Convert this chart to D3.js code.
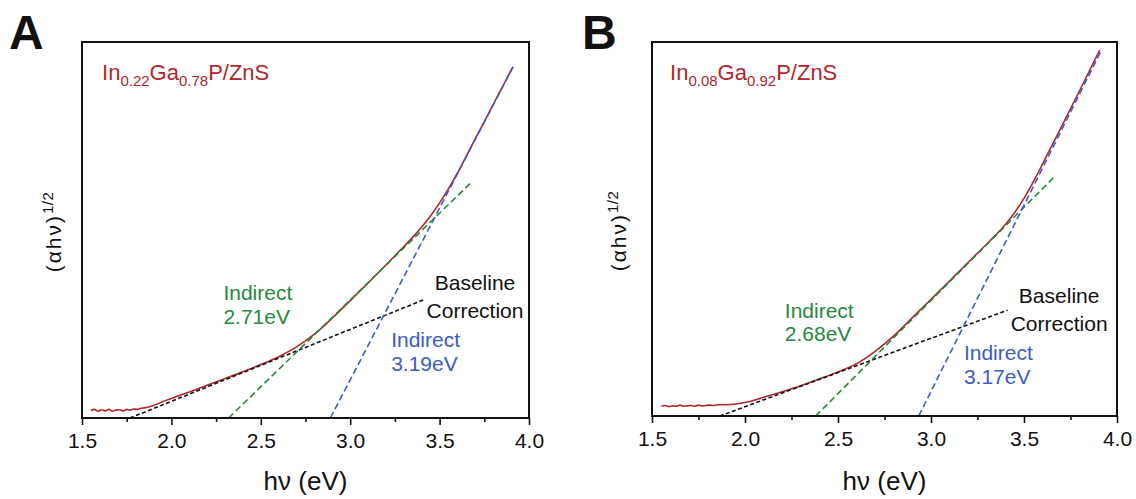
<!DOCTYPE html>
<html>
<head>
<meta charset="utf-8">
<script src="https://cdn.jsdelivr.net/npm/d3@7"></script>
<style>
  html, body { margin: 0; padding: 0; background: #fff; }
  svg { display: block; font-family: Arial, "Liberation Sans", sans-serif; }
</style>
</head>
<body>
<svg id="chart" width="1136" height="499"></svg>
<script>
'use strict';

// tick values (eV)
var xTicks = [1.5, 2.0, 2.5, 3.0, 3.5, 4.0];
var xMinorTicks = [1.75, 2.25, 2.75, 3.25, 3.75];

// panel A : In0.22Ga0.78P/ZnS  -> [hv, (ahv)^1/2]
var curveA = [
  [1.55, 2.0], [1.57, 2.3], [1.59, 1.8], [1.61, 2.2], [1.63, 1.9], [1.65, 2.3],
  [1.67, 1.8], [1.69, 2.1], [1.71, 2.2], [1.73, 1.9], [1.75, 2.3], [1.77, 2.1],
  [1.79, 2.4], [1.81, 2.3], [1.83, 2.6], [1.85, 2.7], [1.9, 3.3], [1.95, 4.3],
  [2.0, 5.2], [2.1, 6.9], [2.2, 8.7], [2.3, 10.5], [2.4, 12.3], [2.5, 14.2],
  [2.6, 16.3], [2.7, 18.9], [2.8, 22.3], [2.9, 26.6], [3.0, 31.2], [3.1, 35.9],
  [3.2, 40.7], [3.3, 45.6], [3.35, 48.1], [3.4, 50.8], [3.45, 53.8], [3.5, 57.2],
  [3.55, 61.0], [3.6, 65.2], [3.65, 69.7], [3.7, 74.3], [3.8, 83.4], [3.91, 93.4]
];
var baselineA = [[1.768, 0], [3.42, 31.6]];
var greenFitA = [[2.32, 0], [3.678, 62.7]];
var blueFitA = [[2.889, 0], [3.911, 93.4]];

// panel B : In0.08Ga0.92P/ZnS
var curveB = [
  [1.55, 2.6], [1.57, 2.8], [1.59, 2.5], [1.61, 2.7], [1.63, 2.6], [1.65, 2.9],
  [1.67, 2.6], [1.69, 2.7], [1.71, 2.8], [1.73, 2.6], [1.75, 2.9], [1.77, 2.7],
  [1.79, 2.8], [1.81, 2.9], [1.83, 2.8], [1.85, 3.0], [1.9, 3.0], [1.95, 3.2],
  [2.0, 3.6], [2.1, 5.0], [2.2, 6.5], [2.3, 8.1], [2.4, 9.9], [2.5, 11.8],
  [2.6, 14.0], [2.7, 17.3], [2.8, 21.4], [2.9, 26.3], [3.0, 31.2], [3.1, 36.1],
  [3.2, 41.1], [3.3, 46.0], [3.35, 48.5], [3.4, 51.2], [3.45, 54.4], [3.5, 58.2],
  [3.55, 62.6], [3.6, 67.4], [3.7, 77.2], [3.8, 87.1], [3.907, 97.8]
];
var baselineB = [[1.864, 0], [3.412, 28.3]];
var greenFitB = [[2.38, 0], [3.664, 64.0]];
var blueFitB = [[2.934, 0], [3.918, 98.0]];

var colors = {
  data: '#b2262b',
  green: '#25893e',
  blue: '#3d5cc2',
  black: '#111'
};

var svg = d3.select('#chart');

var panels = [
  {
    letter: 'A', letterX: 9, left: 82, right: 529, top: 42, bottom: 418,
    yTitleX: 61, yTitleY: 232,
    sample: ['In', '0.22', 'Ga', '0.78', 'P/ZnS'], sampleX: 1.612,
    curve: curveA, baseline: baselineA, green: greenFitA, blue: blueFitA,
    greenLabel: ['Indirect', '2.71eV'], greenPos: [2.291, 300, 23.5],
    blueLabel: ['Indirect', '3.19eV'], bluePos: [3.229, 346.5, 24],
    baseCenter: [3.698, 290, 28]
  },
  {
    letter: 'B', letterX: 582, left: 652, right: 1117, top: 42, bottom: 416,
    yTitleX: 626, yTitleY: 231,
    sample: ['In', '0.08', 'Ga', '0.92', 'P/ZnS'], sampleX: 1.597,
    curve: curveB, baseline: baselineB, green: greenFitB, blue: blueFitB,
    greenLabel: ['Indirect', '2.68eV'], greenPos: [2.214, 317.5, 23.5],
    blueLabel: ['Indirect', '3.17eV'], bluePos: [3.177, 360, 24],
    baseCenter: [3.689, 303, 28]
  }
];

panels.forEach(function(p) {
  var x = d3.scaleLinear().domain([1.5, 4.0]).range([p.left, p.right]);
  var y = d3.scaleLinear().domain([0, 100]).range([p.bottom, p.top]);
  var g = svg.append('g');

  var line = d3.line()
    .x(function(d) { return x(d[0]); })
    .y(function(d) { return y(d[1]); });

  // panel letter
  g.append('text')
    .attr('x', p.letterX)
    .attr('y', 49)
    .attr('font-size', 48)
    .attr('font-weight', 'bold')
    .attr('fill', '#111')
    .text(p.letter);

  // measured curve
  g.append('path')
    .datum(p.curve)
    .attr('d', line.curve(d3.curveMonotoneX))
    .attr('fill', 'none')
    .attr('stroke', colors.data)
    .attr('stroke-width', 1.6);
  line.curve(d3.curveLinear);

  // fit lines
  g.append('path').datum(p.baseline).attr('d', line)
    .attr('fill', 'none').attr('stroke', colors.black)
    .attr('stroke-width', 1.6).attr('stroke-dasharray', '4,2.5');
  g.append('path').datum(p.green).attr('d', line)
    .attr('fill', 'none').attr('stroke', colors.green)
    .attr('stroke-width', 1.6).attr('stroke-dasharray', '6.5,3.5');
  g.append('path').datum(p.blue).attr('d', line)
    .attr('fill', 'none').attr('stroke', colors.blue)
    .attr('stroke-width', 1.6).attr('stroke-dasharray', '6.5,3.5');

  // frame
  g.append('rect')
    .attr('x', p.left).attr('y', p.top)
    .attr('width', p.right - p.left).attr('height', p.bottom - p.top)
    .attr('fill', 'none').attr('stroke', '#111').attr('stroke-width', 2);

  // x axis
  var axis = g.append('g')
    .attr('transform', 'translate(0,' + p.bottom + ')')
    .call(d3.axisBottom(x).tickValues(xTicks).tickSize(7).tickPadding(8)
      .tickFormat(d3.format('.1f')));
  axis.select('.domain').remove();
  axis.selectAll('line').attr('stroke', '#111').attr('stroke-width', 1.6);
  axis.selectAll('text').attr('font-size', 21).attr('fill', '#111')
    .attr('font-family', 'Arial, "Liberation Sans", sans-serif');

  var minor = g.append('g')
    .attr('transform', 'translate(0,' + p.bottom + ')')
    .call(d3.axisBottom(x).tickValues(xMinorTicks).tickSize(4).tickFormat(''));
  minor.select('.domain').remove();
  minor.selectAll('line').attr('stroke', '#111').attr('stroke-width', 1.6);

  // axis titles
  g.append('text')
    .attr('x', (p.left + p.right) / 2)
    .attr('y', 490)
    .attr('text-anchor', 'middle')
    .attr('font-size', 26)
    .attr('fill', '#111')
    .text('h\u03bd (eV)');

  var yt = g.append('text')
    .attr('transform', 'translate(' + p.yTitleX + ',' + p.yTitleY + ') rotate(-90)')
    .attr('text-anchor', 'middle')
    .attr('font-size', 21)
    .attr('letter-spacing', 2)
    .attr('fill', '#111');
  yt.append('tspan').text('(\u03b1h\u03bd)');
  yt.append('tspan').attr('font-size', 15).attr('letter-spacing', 0.5)
    .attr('dy', -8).text('1/2');

  // sample name with subscripts
  var st = g.append('text')
    .attr('x', x(p.sampleX))
    .attr('y', 80)
    .attr('font-size', 22)
    .attr('fill', colors.data);
  p.sample.forEach(function(s, i) {
    var sub = i % 2 === 1;
    st.append('tspan')
      .attr('font-size', sub ? 15 : 22)
      .attr('dy', sub ? 6 : (i === 0 ? 0 : -6))
      .text(s);
  });

  // annotations, one text per line
  function twoLines(lines, pos, color, anchor) {
    lines.forEach(function(l, i) {
      g.append('text')
        .attr('font-size', 21)
        .attr('fill', color)
        .attr('text-anchor', anchor)
        .attr('x', x(pos[0]))
        .attr('y', pos[1] + i * pos[2])
        .text(l);
    });
  }
  twoLines(p.greenLabel, p.greenPos, colors.green, 'start');
  twoLines(p.blueLabel, p.bluePos, colors.blue, 'start');
  twoLines(['Baseline', 'Correction'], p.baseCenter, '#111', 'middle');
});
</script>
</body>
</html>
